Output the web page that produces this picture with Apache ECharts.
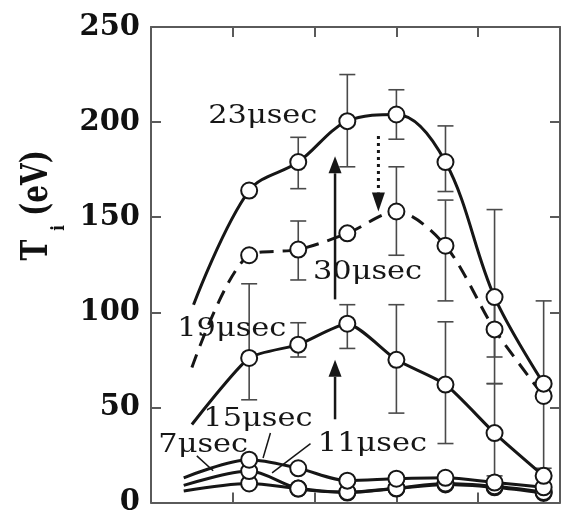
<!DOCTYPE html>
<html>
<head>
<meta charset="utf-8">
<script src="https://cdn.jsdelivr.net/npm/echarts@6/dist/echarts.min.js"></script>
<style>
  html, body { margin: 0; padding: 0; background: #fff; }
  #chart { width: 566px; height: 517px; }
</style>
</head>
<body>
<div id="chart"></div>
<script>
// Radial positions of the measurement points
const radius = [1.2, 1.8, 2.4, 3.0, 3.6, 4.2, 4.8];

// Ion temperature T_i (eV) at each radius, one list per time
const ti23 = [164, 179, 200.5, 204, 179, 108, 62.5];
const ti30 = [130, 133, 141.5, 153, 135, 91, 56];
const ti19 = [76, 83, 94, 75, 62, 36.5, 14];
const ti15 = [22.5, 18, 11.5, 12.5, 13, 10.5, 8];
const ti11 = [16.5, 7.3, 5.5, 7.5, 10, 8.5, 5.5];
const ti7  = [10, 7.3, 5.2, 7.3, 9.5, 8, 5];

// Inner end of each fitted curve, where nothing was measured: [radius, T_i]
const lead23 = [0.52, 104];
const lead30 = [0.50, 71];
const lead19 = [0.50, 41];
const lead15 = [0.40, 13];
const lead11 = [0.40, 9];
const lead7  = [0.40, 6];

// Error bars: [radius, low, high]
const err23 = [[1.8, 165, 192], [2.4, 176.5, 225], [3.0, 191, 217], [3.6, 163.5, 198], [4.2, 76.5, 154]];
const err30 = [[1.8, 117, 148], [3.0, 130, 176.5], [3.6, 106, 159], [4.2, 62.5, 108], [4.8, 18, 106]];
const err19 = [[1.2, 54, 115], [1.8, 76.5, 94.5], [2.4, 81, 104], [3.0, 47, 104], [3.6, 31, 95], [4.2, 14, 62.5]];

// Axis ranges and tick steps
const yTicks = [0, 50, 100, 150, 200, 250];
const xTicks = [0, 1, 2, 3, 4, 5];

// Curve labels and where their left/middle anchor sits: [radius, T_i]
const labelText = ['23μsec', '30μsec', '19μsec', '15μsec', '7μsec', '11μsec'];
const labelAt = [[0.70, 203], [1.98, 121], [0.32, 91], [0.64, 44], [0.09, 30], [2.04, 30.7]];

// Leader lines from the small labels to their curves: [r0, T0, r1, T1]
const leaders = [[0.56, 24.5, 0.76, 16.7], [1.46, 36.5, 1.37, 23.4], [1.95, 31, 1.48, 15.6]];

// Arrows showing the change in time: [radius, from T_i, to T_i, dotted]
const arrows = [[2.25, 106.8, 182, 0], [2.25, 43.75, 75, 0], [2.78, 192.7, 153, 1]];

const INK = '#161616';
const FRAME = '#5a5a5a';

function curve(lead, values, dashed, smooth, z) {
  const data = [{ value: lead, symbol: 'none' }].concat(
    radius.map((r, i) => [r, values[i]])
  );
  return {
    type: 'line',
    data: data,
    smooth: smooth,
    symbol: 'circle',
    symbolSize: 16,
    itemStyle: { color: '#fff', borderColor: INK, borderWidth: 2 },
    lineStyle: { color: INK, width: 3, type: dashed ? [14, 9] : 'solid' },
    emphasis: { disabled: true },
    z: z
  };
}

function errorBars(list) {
  return {
    type: 'custom',
    data: list,
    encode: { x: 0, y: [1, 2] },
    z: 1,
    silent: true,
    renderItem: function (params, api) {
      const x = api.value(0);
      const top = api.coord([x, api.value(2)]);
      const bot = api.coord([x, api.value(1)]);
      const w = 8;
      const st = { stroke: '#4a4a4a', lineWidth: 1.6 };
      return {
        type: 'group',
        children: [
          { type: 'line', shape: { x1: top[0], y1: top[1], x2: bot[0], y2: bot[1] }, style: st },
          { type: 'line', shape: { x1: top[0] - w, y1: top[1], x2: top[0] + w, y2: top[1] }, style: st },
          { type: 'line', shape: { x1: bot[0] - w, y1: bot[1], x2: bot[0] + w, y2: bot[1] }, style: st }
        ]
      };
    }
  };
}

const chart = echarts.init(document.getElementById('chart'), null, { renderer: 'canvas' });

const axisCommon = {
  type: 'value',
  axisLine: { show: true, onZero: false, lineStyle: { color: FRAME, width: 2 } },
  axisTick: { show: true, inside: true, length: 10, lineStyle: { color: FRAME, width: 2 } },
  splitLine: { show: false }
};

chart.setOption({
  animation: false,
  backgroundColor: '#fff',
  grid: { left: 151, right: 6, top: 27, bottom: 10, containLabel: false },
  xAxis: [
    Object.assign({}, axisCommon, {
      position: 'bottom', min: xTicks[0], max: xTicks[xTicks.length - 1], interval: 1,
      axisLabel: { show: false }
    }),
    Object.assign({}, axisCommon, {
      position: 'top', min: xTicks[0], max: xTicks[xTicks.length - 1], interval: 1,
      axisLabel: { show: false }
    })
  ],
  yAxis: [
    Object.assign({}, axisCommon, {
      position: 'left', min: yTicks[0], max: yTicks[yTicks.length - 1], interval: 50,
      axisLabel: {
        show: true, margin: 11, color: '#111',
        fontFamily: 'DejaVu Serif', fontWeight: 'bold', fontSize: 29
      }
    }),
    Object.assign({}, axisCommon, {
      position: 'right', min: yTicks[0], max: yTicks[yTicks.length - 1], interval: 50,
      axisLabel: { show: false }
    })
  ],
  graphic: [
    {
      type: 'text', x: 38, y: 250, rotation: Math.PI / 2, scaleY: 1.3,
      style: { text: 'T', font: 'bold 28px "DejaVu Serif"', fill: '#111', align: 'center', verticalAlign: 'middle' }
    },
    {
      type: 'text', x: 59, y: 228, rotation: Math.PI / 2, scaleY: 1.2,
      style: { text: 'i', font: 'bold 15px "DejaVu Serif"', fill: '#111', align: 'center', verticalAlign: 'middle' }
    },
    {
      type: 'text', x: 38, y: 183, rotation: Math.PI / 2, scaleY: 1.3,
      style: { text: '(eV)', font: 'bold 28px "DejaVu Serif"', fill: '#111', align: 'center', verticalAlign: 'middle' }
    }
  ],
  series: [
    errorBars(err23),
    errorBars(err30),
    errorBars(err19),
    {
      type: 'custom',
      data: leaders,
      z: 1,
      silent: true,
      renderItem: function (params, api) {
        const a = api.coord([api.value(0), api.value(1)]);
        const b = api.coord([api.value(2), api.value(3)]);
        return {
          type: 'line',
          shape: { x1: a[0], y1: a[1], x2: b[0], y2: b[1] },
          style: { stroke: INK, lineWidth: 1.5 }
        };
      }
    },
    curve(lead7, ti7, false, 0.3, 2),
    curve(lead11, ti11, false, 0.3, 2),
    curve(lead15, ti15, false, 0.3, 2),
    curve(lead19, ti19, false, 0.2, 3),
    curve(lead30, ti30, true, 0.3, 3),
    curve(lead23, ti23, false, 0.35, 4),
    {
      type: 'custom',
      data: arrows,
      z: 5,
      silent: true,
      renderItem: function (params, api) {
        const x = api.value(0);
        const from = api.coord([x, api.value(1)]);
        const to = api.coord([x, api.value(2)]);
        const dotted = api.value(3) === 1;
        const dir = to[1] < from[1] ? -1 : 1;
        const headLen = dotted ? 19 : 17;
        const halfW = 6.5;
        const baseY = to[1] - dir * headLen;
        return {
          type: 'group',
          children: [
            {
              type: 'line',
              shape: { x1: from[0], y1: from[1], x2: to[0], y2: baseY },
              style: { stroke: INK, lineWidth: dotted ? 3 : 2.5, lineDash: dotted ? [3, 4] : null }
            },
            {
              type: 'polygon',
              shape: { points: [[to[0], to[1]], [to[0] - halfW, baseY], [to[0] + halfW, baseY]] },
              style: { fill: INK }
            }
          ]
        };
      }
    },
    {
      type: 'custom',
      data: labelAt,
      z: 6,
      silent: true,
      renderItem: function (params, api) {
        const p = api.coord([api.value(0), api.value(1)]);
        return {
          type: 'text',
          x: p[0], y: p[1],
          scaleX: 1.17,
          style: {
            text: labelText[params.dataIndex],
            font: '26px "DejaVu Serif"',
            fill: INK,
            align: 'left',
            verticalAlign: 'middle'
          }
        };
      }
    }
  ]
});
</script>
</body>
</html>
